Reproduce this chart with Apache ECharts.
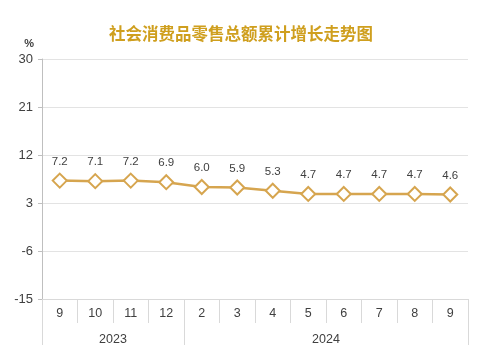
<!DOCTYPE html>
<html><head><meta charset="utf-8">
<script src="https://cdn.jsdelivr.net/npm/echarts@6/dist/echarts.min.js"></script>
<style>html,body{margin:0;padding:0;background:#fff}#c{width:488px;height:364px}</style>
</head><body><div id="c"></div>
<script>
const months = ['9','10','11','12','2','3','4','5','6','7','8','9'];
const years = ['2023','2024'];
const yearSpans = [4, 8];
const growth = [7.2, 7.1, 7.2, 6.9, 6.0, 5.9, 5.3, 4.7, 4.7, 4.7, 4.7, 4.6];
const yTicks = [-15, -6, 3, 12, 21, 30];

const yMin = yTicks[0];
const shift = -yMin;
const yearBounds = [0];
yearSpans.forEach(s => yearBounds.push(yearBounds[yearBounds.length-1] + s));
const yearCenters = yearSpans.map((s, i) => yearBounds[i] + s / 2);

const chart = echarts.init(document.getElementById('c'));
chart.setOption({
  animation: false,
  title: {
    text: '社会消费品零售总额累计增长走势图',
    left: 104, top: 20,
    textStyle: { fontFamily: 'Noto Sans CJK SC', fontWeight: 'bold', fontSize: 16.5, color: '#CF9F1E' }
  },
  grid: { left: 42, right: 20, top: 59, bottom: 65 },
  xAxis: [{
    type: 'category', data: months, position: 'bottom',
    axisLine: { show: true, lineStyle: { color: '#D9D9D9', width: 1 } },
    axisTick: { show: true, alignWithLabel: false, interval: 0, length: 24, lineStyle: { color: '#D9D9D9' } },
    axisLabel: { interval: 0, margin: 8, fontSize: 12.5, color: '#404040', fontFamily: 'Liberation Sans' }
  }, {
    type: 'value', min: 0, max: months.length, position: 'bottom',
    axisLine: { show: false },
    splitLine: { show: false },
    axisTick: { show: true, customValues: yearBounds, length: 46, lineStyle: { color: '#D9D9D9' } },
    axisLabel: { customValues: yearCenters, margin: 34, fontSize: 12.5, color: '#404040', fontFamily: 'Liberation Sans',
      formatter: v => { const i = yearCenters.indexOf(v); return i >= 0 ? years[i] : ''; } }
  }],
  yAxis: {
    type: 'value', min: 0, max: yTicks[yTicks.length-1] + shift, interval: yTicks[1] - yTicks[0],
    name: '%', nameLocation: 'end', nameGap: 10,
    nameTextStyle: { fontSize: 11, fontWeight: 'bold', color: '#404040', align: 'right', padding: [0, 8, 0, 0] },
    axisLine: { show: true, lineStyle: { color: '#BFBFBF' } },
    axisTick: { show: true, length: 4, lineStyle: { color: '#BFBFBF' } },
    splitLine: { lineStyle: { color: '#E3E3E3' } },
    axisLabel: { fontSize: 13, color: '#404040', margin: 9, fontFamily: 'Liberation Sans', formatter: v => String(v - shift) }
  },
  series: [{
    type: 'line', xAxisIndex: 0,
    data: growth.map(v => v + shift),
    symbol: 'diamond', symbolSize: 14,
    lineStyle: { color: '#D6A54F', width: 2.5 },
    itemStyle: { color: '#FFFFFF', borderColor: '#D6A54F', borderWidth: 2 },
    label: { show: true, position: 'top', distance: 5, fontSize: 11.5, color: '#404040', fontFamily: 'Liberation Sans',
      formatter: p => growth[p.dataIndex].toFixed(1) }
  }]
});
</script></body></html>
